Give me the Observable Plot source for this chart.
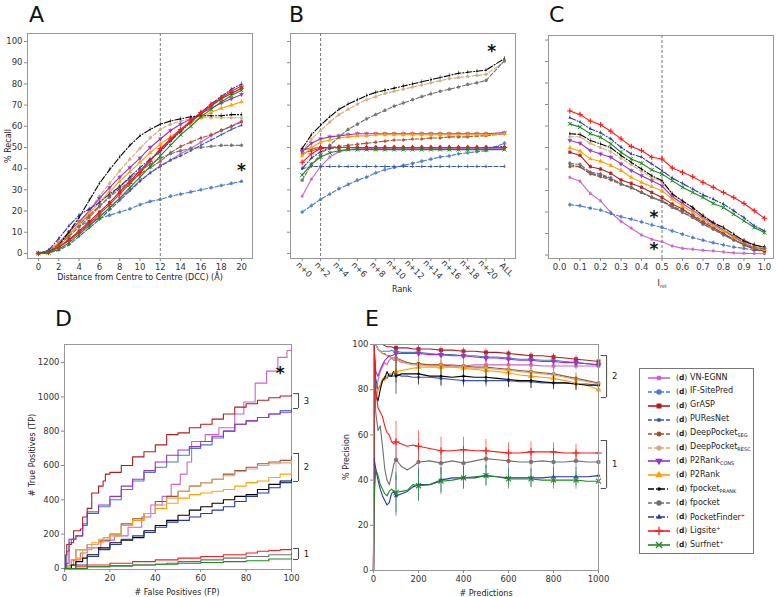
<!DOCTYPE html>
<html><head><meta charset="utf-8">
<script src="https://cdn.jsdelivr.net/npm/d3@7"></script>
<script src="https://cdn.jsdelivr.net/npm/@observablehq/plot@0.6"></script>
<style>
body{margin:0;background:#fff;font-family:"DejaVu Sans",sans-serif;}
#fig{position:relative;width:776px;height:597px;overflow:hidden;background:#fff}
.plab{position:absolute;font-size:22px;line-height:22px;color:#111}
.alab{position:absolute;font-size:8px;color:#222;white-space:nowrap;transform:translate(-50%,-50%)}
.vlab{transform:translate(-50%,-50%) rotate(-90deg)}
#legend{position:absolute;left:639px;top:368px;width:115px;height:186px;border:1px solid #777;box-sizing:border-box;background:#fff}
.lrow{position:absolute;left:0;height:12px;white-space:nowrap;font-size:8px;color:#222}
.lrow svg{position:absolute;left:7px;top:0}
.lrow .dd{position:absolute;left:36px;top:1px;font-size:7.5px}
.lrow .nm{position:absolute;left:50px;top:0.5px}
sub,sup{font-size:5px}
sub{vertical-align:-2px}
sup{vertical-align:3px}
</style></head><body><div id="fig"></div>
<script>
// ---------------- DATA ----------------
const methods = ["VN-EGNN","IF-SitePred","GrASP","PUResNet","DeepPocket_SEG","DeepPocket_RESC","P2Rank_CONS","P2Rank","fpocket_PRANK","fpocket","PocketFinder+","Ligsite+","Surfnet+"];
const legendBase = ["VN-EGNN","IF-SitePred","GrASP","PUResNet","DeepPocket","DeepPocket","P2Rank","P2Rank","fpocket","fpocket","PocketFinder","Ligsite","Surfnet"];
const legendSub = ["","","","","SEG","RESC","CONS","","PRANK","","","",""];
const legendSup = ["","","","","","","","","","","+","+","+"];

// Panel A: recall vs DCC threshold
const dccX = [0,1,2,3,4,5,6,7,8,9,10,11,12,13,14,15,16,17,18,19,20];
const dccTicks = [0,2,4,6,8,10,12,14,16,18,20];
const recallTicks = [0,10,20,30,40,50,60,70,80,90,100];
const dccRecall = [
 [0,0.5,3,6.5,10,13.5,17.5,21.5,26,30,34.5,38,41.5,44,47,49.5,52.5,55.5,58,60,62.5],
 [0,1,5,9.5,13,15,16.5,18,19.5,21,23,24.5,25.5,27,28,29,30,31,32,33,34],
 [0,0.5,3,6.5,10.5,15,19.5,24,29,34,39,44,49,53.5,58,62,66,69.5,73,75.5,78],
 [0,0.3,1.5,4,8,12,16,20.5,25,29.5,34,38,41,44,46,48.5,51,53.5,56,58.5,60.5],
 [0,1,4.5,9,13.5,18,22.5,26.5,30.5,34,37.5,40.5,43.5,47.5,50.5,52.5,54.5,56,58,60,62],
 [0,0.5,3.5,8,14,20.5,27,33,39,44.5,49.5,54.5,58.5,61,62.5,63.5,64,64,64,64,64],
 [0,1,5,10,15,20,26,31,36,40.5,45,50,54,58,61,63.5,66,68.5,71,73,75],
 [0,1,5,9,14,19,24,29,34,38.5,43,47.5,51.5,55,58.5,61.5,64,66.5,68.5,70,71.5],
 [0,0.5,4,10,17,25,33,39.5,45.5,51,55.5,58.5,61,62.5,63.5,64.5,65,65,65,65.5,65.5],
 [0,1,4,8,12.5,17,22,27,31.5,35.5,39,42,45,47,48.5,49.5,50,50.5,51,51,51],
 [0,1.5,7,13,18,21,24,28,31.5,36,40.5,44.5,48,53,57.5,62,66.5,70.5,74,77.5,80],
 [0,0.5,3,6,10,14,18.5,23,28,33,38,43.5,49.5,54,58.5,62.5,66.5,70,73.5,76.5,79],
 [0,0.3,2,5,9,13,17,21.5,26,31,36,41,46,51,56,60,64.5,68,71.5,74.5,77]
];

// Panel B: recall vs rank (ALL plotted at position 22)
const rankX = [0,1,2,3,4,5,6,7,8,9,10,11,12,13,14,15,16,17,18,19,20,22];
const rankTickPos = [0,2,4,6,8,10,12,14,16,18,20,22];
const rankTickLabels = ["n+0","n+2","n+4","n+6","n+8","n+10","n+12","n+14","n+16","n+18","n+20","ALL"];
const rankRecall = [
 [27,35,41,45.5,48,49,49.5,49.5,49.5,49.5,49.5,49.5,49.5,49.5,49.5,49.5,49.5,49.5,49.5,49.5,49.5,49.5],
 [19.5,22.5,25.5,28,30.5,32.5,34.5,36,38,39.5,40.5,41.5,42.5,43.5,44.5,45.5,46,47,47.5,48,48.5,52],
 [49,49.5,50,50,50,50,50,50,50,50,50,50,50,50,50,50,50,50,50,50,50,50],
 [40,41,41,41,41,41,41,41,41,41,41,41,41,41,41,41,41,41,41,41,41,41],
 [47,48.5,49.5,50,50.5,51,51.5,52,52.5,53,53.5,53.5,54,54,54.5,54.5,55,55,55,55.5,55.5,56.5],
 [48,54,58,62,65.5,68,70.5,72.5,74,75.5,76.5,77.5,78.5,79.5,80.5,81.5,82.5,83,83.5,84,84.5,90.5],
 [48,52,54,55,55.5,56,56.5,56.5,56.5,56.5,56.5,56.5,56.5,56.5,56.5,56.5,56.5,56.5,56.5,56.5,56.5,57],
 [46,50,52.5,53.5,54.5,55,55.5,55.5,56,56,56,56,56,56,56,56,56,56,56,56,56,56.5],
 [49.5,56,60.5,64.5,68,70.5,72.5,74.5,76,77,78,79,80,81,82,83,84,85,85.5,86,86.5,92],
 [34.5,42,46.5,51,55,58.5,61,63.5,65.5,67.5,69.5,71,72.5,74,75.3,76.5,77.5,78.5,79.7,80.5,81.6,91],
 [40,45,48,49.5,50,50,50,50,50,50,50,50,50,50,50,50,50,50,50,50,50,50.5],
 [43,47,49.5,50,50,50,50,50,50,50,50,50,50,50,50,50,50,50,50,50,50,50],
 [37,42,45.5,47.5,48.5,49,49,49,49,49,49,49,49,49,49,49,49,49,49,49,49,49]
];

// Panel C: recall vs relative ligandability threshold
const irelX = [0.05,0.1,0.15,0.2,0.25,0.3,0.35,0.4,0.45,0.5,0.55,0.6,0.65,0.7,0.75,0.8,0.85,0.9,0.95,1.0];
const irelTicks = [0,0.1,0.2,0.3,0.4,0.5,0.6,0.7,0.8,0.9,1.0];
const irelRecall = [
 [36.1,34.3,28.6,25.2,19.8,15.6,12.5,9.3,7.3,6.2,4.2,3.1,2.7,2.2,1.9,1.4,1,0.8,0.7,0.6],
 [23.4,22.9,21.8,20.9,19.3,17.8,16.7,15.4,14,12.8,11.2,9.7,8.1,6.9,5.7,4.7,3.7,3.1,2.2,1.9],
 [47.8,46.3,41.1,40,38,34.9,33.3,31.5,29.1,26.8,23.7,21.4,18.2,15.1,12.8,10,7.3,4.7,2.7,1.9],
 [42,41,38,37,35.5,33,31.5,29,27,25,22.5,20,17.5,14.5,12,9.5,7,5,3,2.5],
 [41.1,41.1,37.7,36.4,34.9,33,31.2,29.1,26.8,25.2,22.9,20.6,18.7,15.9,13.6,11.2,8.9,6.9,4.7,3.7],
 [55,55,52,50,48,45,42,39,36,34,28.5,25,22,18.5,15,12,9,6.5,4,3],
 [53.3,52,48.6,47,45.5,42.4,39.3,36.9,34.6,32.2,27.1,24,20.9,17.4,14.6,11.5,8.4,5.7,3.4,2.7],
 [49.9,48.3,44.7,43.6,41.6,39.3,36.1,33.8,31.8,29.9,26,22.9,19.8,16.7,13.6,11.2,8.1,5.3,3.4,2.5],
 [56.4,56.1,53.3,51.7,49.9,46.3,43.1,40,36.9,34.6,28.4,25.2,22.1,18.2,15.1,12.8,9.7,6.5,4.7,3.7],
 [42.7,42.1,38.5,37.7,35.8,33,31.5,29.1,26.8,24.9,22.1,19.8,17.4,14.3,12,9.3,6.9,5,3.4,3.1],
 [63.9,61.8,58.7,56.9,54,50.1,47,45.5,42.4,39.3,35.8,33.3,30.7,28,26,23.7,20.6,17.4,13.6,11.2],
 [67,65.4,62.3,60.6,57.6,54,50.5,48.6,45.5,44.7,40.5,38.5,36.4,33.8,31.5,29.1,26.8,24,20.6,17.1],
 [61,59.5,56.4,54.8,51.7,47.8,44.7,42.7,39.6,37.7,34.6,31.5,29.1,26.8,24,22.1,19,15.9,12.8,10.4]
];

// Panel D: TP vs FP (step curves), [FP, TP]
const fpTicks = [0,20,40,60,80,100];
const tpTicks = [0,200,400,600,800,1000,1200];
const rocCurves = [
 [[0,0],[2,20],[4,50],[7,90],[10,120],[16,165],[22,190],[28,240],[34,300],[38,370],[43,420],[47,490],[51,550],[54,620],[56,740],[62,780],[68,820],[75,900],[79,970],[84,1080],[89,1150],[94,1230],[98,1270],[100,1290]],
 [[0,0],[1,100],[2,150],[3,170],[5,190],[8,260],[10,330],[15,360],[20,400],[25,460],[30,510],[35,560],[40,590],[45,620],[50,660],[55,700],[60,720],[65,760],[70,800],[75,840],[80,860],[85,880],[90,900],[95,920],[100,935]],
 [[0,0],[0.5,80],[1,140],[3,150],[4,220],[7,230],[8,300],[10,350],[12,440],[15,480],[17,510],[18,550],[20,560],[25,600],[30,650],[35,680],[40,720],[45,780],[50,790],[55,820],[60,840],[65,870],[70,900],[75,940],[80,960],[85,980],[90,995],[95,1005],[100,1010]],
 [],
 [[0,0],[3,50],[5,110],[10,140],[15,160],[20,200],[25,260],[30,290],[35,320],[40,390],[45,420],[50,450],[55,480],[60,500],[65,520],[70,550],[75,570],[80,590],[85,610],[90,620],[95,630],[100,650]],
 [[0,0],[3,50],[5,110],[10,140],[15,170],[20,200],[25,250],[30,280],[35,320],[40,370],[45,410],[50,450],[55,480],[60,500],[65,520],[70,540],[75,565],[80,580],[85,600],[90,610],[95,615],[100,630]],
 [[0,0],[1,30],[2,170],[5,190],[8,250],[10,320],[15,370],[20,420],[25,480],[30,520],[35,570],[40,620],[45,660],[50,690],[55,710],[60,740],[65,770],[70,800],[75,840],[80,860],[85,880],[90,900],[95,910],[100,920]],
 [[0,0],[2,20],[5,60],[8,110],[12,150],[17,180],[20,190],[25,250],[30,280],[35,320],[40,350],[45,380],[50,410],[55,430],[60,440],[65,450],[70,460],[75,480],[80,500],[85,510],[90,530],[95,550],[100,580]],
 [[0,0],[3,20],[5,40],[8,60],[10,80],[15,120],[20,150],[25,165],[30,180],[35,220],[40,250],[45,280],[50,310],[55,340],[60,360],[65,380],[70,400],[75,420],[80,430],[85,460],[90,490],[95,510],[100,520]],
 [[0,0],[10,10],[20,15],[30,20],[40,25],[45,30],[50,40],[60,50],[70,60],[80,70],[90,80],[100,90]],
 [[0,0],[5,20],[10,70],[15,110],[20,140],[25,170],[30,190],[35,210],[40,240],[45,270],[50,280],[55,300],[60,320],[65,340],[70,360],[75,390],[80,420],[85,440],[90,470],[95,500],[100,510]],
 [[0,0],[5,10],[10,20],[20,30],[30,40],[40,50],[50,60],[60,70],[70,80],[80,90],[85,100],[90,105],[95,110],[100,115]],
 [[0,0],[10,10],[20,15],[30,20],[40,25],[50,30],[60,35],[70,40],[80,45],[90,55],[100,65]]
];
const rocBrackets = [{label:"3", y1:1019, y2:932},{label:"2", y1:670, y2:507},{label:"1", y1:116, y2:52}];

// Panel E: precision vs number of predictions
const predX = [0,2,10,20,30,40,50,60,70,80,90,100,125,150,175,200,250,300,350,400,450,500,550,600,650,700,750,800,850,900,950,1000];
const predTicks = [0,200,400,600,800,1000];
const precTicks = [0,20,40,60,80,100];
const precision = [
 [0,100,80,84,88,90,92,91,93,94,93,93.5,92,92,91.5,91.5,91,91,91,90.5,91,91,91,91,91,91,90.5,90.5,90.5,90.5,90.5,90.5],
 [0,100,100,98,97,97,97,97,97,97.5,97,97,96.5,96.5,96.5,96.5,96,95.5,95.5,95,95,94.5,94.5,94,93.5,93.5,93,93,92.5,92,91.5,91],
 [0,100,100,100,100,100,99.5,99,99,99,98.5,98.5,98.5,98.5,98,98,98,97.5,97.5,97,97,96.5,96.5,96,95.5,95,95,94.5,94,93.5,93,92.5],
 [0,100,85,80,82,84,86,85,87,86,86,87,86,86,85.5,85.5,85.5,85,84.5,84,84,84,84,84,83.5,83.5,83,83,83,82.5,82.5,82],
 [0,100,100,98,97,96,96,95,95,94,94,94,93,92,91.5,91.5,91,91,90.5,90.5,90,90,89.5,89,88.5,88,87.5,87,86,85,84,83],
 [0,100,100,98,97,96,95.5,95,94.5,94,94,93.5,92.5,91.5,91,91,90.5,90.5,90,90,89.5,89.5,89,88.5,88,87.5,87,86.5,85.5,84.5,83.5,82.5],
 [0,100,88,86,89,91,93,94,95,95,95.5,96,96,96,96,96,95.5,95.5,95,95,94.5,94,94,93.5,93,93,92.5,92.5,92,92,91.5,91],
 [0,100,75,80,82,85,84,86,87,87,88,88,88.5,89,89.5,90,90,90,90,89.5,89,88.5,88,87.5,86.5,86,85.5,85,84,83,82,80],
 [0,100,78,75,80,84,85,88,86,86,88,86,87,87,87,87,86,86,85.5,86,85.5,85.5,85,84.5,84,84,83.5,83,83,82.5,82,82],
 [0,100,70,62,64,55,45,40,38,42,47,49,46,44.5,46,48,48.5,47.5,48.5,47.5,48.5,49.5,49,48.5,48,48,48.5,48,48,48.5,48,48],
 [0,50,45,40,36,33,31,29,30,34,35,33,34,35,37,38,38,40,41,41,41,42,41.5,41,41,41,41,41.5,41.5,41.5,41.5,42],
 [0,100,80,72,70,68,64,61,60,57,56,57,56,55,55.5,55,54,53,53,53.5,53,53,52.5,52,52,52.5,52.5,52.5,52,52,52,52],
 [0,30,45,42,38,36,34,33,35,36,35,34.5,35,35.5,38,37.5,38,39.5,40,41,41.5,42,41.5,40.5,40.5,40.5,40,40,40,40,39.5,39.5]
];
const errX = [100,200,300,400,500,600,700,800,900,1000];
const precErr = [
 [2,2,2,2,2,2,2,2,2,2],
 [1.5,1.5,1.5,1.5,1.5,1.5,1.5,1.5,1.5,1.5],
 [1.5,1.5,1.5,1.5,1.5,1.5,1.5,1.5,1.5,1.5],
 [4,3,3,3,3,3,3,2.5,2.5,2.5],
 [3,2.5,2.5,2.5,2.5,2.5,2.5,2.5,2.5,2.5],
 [3,2.5,2.5,2.5,2.5,2.5,2.5,2.5,2.5,2.5],
 [2,2,2,2,2,2,2,2,2,2],
 [3,3,3,3,3,3,3,3,3,3],
 [8,5,4.5,4,3.5,3.5,3.5,3,3,3],
 [9,6,5,4.5,4.5,4,4,4,4,4],
 [9,7,5.5,5,4.5,4,4,4,4,4],
 [9,7,6,5.5,5,4.5,4.5,4,4,4],
 [9,7,6,5,4.5,4.5,4,4,4,4]
];
const precBrackets = [{label:"2", y1:95.1, y2:76.5},{label:"1", y1:57.5, y2:36.3}];

const aStars = [{x:20, y:39}];
const bStars = [{x:20.6, y:95.5}];
const cStars = [{x:0.46, y:17.5},{x:0.46, y:2.5}];
const dStars = [{x:95, y:1135}];

// ---------------- STYLES ----------------
const styles = [
 {color:"#c964c8", dash:null, symbol:"square", r:1.5},
 {color:"#4a7bc8", dash:"4,2", symbol:"circle", r:1.7},
 {color:"#b01c20", dash:null, symbol:"square", r:1.8},
 {color:"#3b55b5", dash:"4,2", symbol:"circle", r:1.1},
 {color:"#a0522d", dash:"4,2", symbol:"circle", r:1.5},
 {color:"#d2aa7a", dash:"4,2", symbol:"circle", r:1.6},
 {color:"#9a32c8", dash:null, symbol:"triangle", rotate:180, r:1.8},
 {color:"#ffa000", dash:null, symbol:"triangle", r:1.8},
 {color:"#000000", dash:"6,2,1,2", symbol:"circle", r:0.8},
 {color:"#707070", dash:"4,2", symbol:"circle", r:1.7},
 {color:"#2436a8", dash:"6,2,1,2", symbol:"triangle", r:1.1},
 {color:"#ff1a1a", dash:null, symbol:"plus", r:1.9},
 {color:"#1f8a1f", dash:null, symbol:"times", r:1.9}
];
const FONT = "DejaVu Sans";
const fig = document.getElementById("fig");
function place(el, left, top){ el.style.position="absolute"; el.style.left=left+"px"; el.style.top=top+"px"; fig.appendChild(el); }
function addText(cls, html, x, y){ const d=document.createElement("div"); d.className=cls; d.innerHTML=html; d.style.left=x+"px"; d.style.top=y+"px"; fig.appendChild(d); return d; }

function seriesMarks(xs, table, opts={}){
  const marks=[];
  table.forEach((vals,i)=>{
    const st=styles[i];
    const rows = xs.map((x,k)=>({x, y: vals[k]}));
    marks.push(Plot.line(rows,{x:"x",y:"y",stroke:st.color,strokeWidth:1.1,strokeDasharray:st.dash||undefined,curve:"linear"}));
    const stroked = st.symbol==="plus"||st.symbol==="times";
    marks.push(Plot.ruleX(rows,{x:"x",y1:d=>d.y-0.9,y2:d=>d.y+0.9,stroke:st.color,strokeOpacity:0.5,strokeWidth:1}));
    marks.push(Plot.dot(rows,{x:"x",y:"y",symbol:st.symbol,r:st.r,rotate:st.rotate||0,
      fill: stroked?"none":st.color, stroke: stroked?st.color:"none", strokeWidth:1, fillOpacity:0.85}));
  });
  return marks;
}
const baseStyle = {fontFamily:FONT, fontSize:"8.5px", color:"#333", background:"transparent", overflow:"visible"};
const axOpts = {tickSize:3, tickPadding:2, label:null, stroke:"#888"};
const plainFmt = d3.format("d");

// ---------------- PANEL A ----------------
const pA = Plot.plot({
  width:258, height:290, marginLeft:27, marginRight:6, marginTop:33, marginBottom:32,
  x:{domain:[-1.08,21.08]}, y:{domain:[-2.4,103.8]}, style:baseStyle,
  marks:[
    Plot.frame({stroke:"#999"}),
    Plot.axisX({...axOpts, ticks:dccTicks, tickFormat:plainFmt}),
    Plot.axisY({...axOpts, ticks:recallTicks, tickFormat:plainFmt}),
    Plot.ruleX([12],{stroke:"#777",strokeDasharray:"3,2"}),
    ...seriesMarks(dccX, dccRecall),
    Plot.text(aStars,{x:"x",y:"y",text:()=>"*",fontSize:17,fontWeight:"bold",fill:"#111"})
  ]
});
place(pA,0,0);

// ---------------- PANEL B ----------------
const pB = Plot.plot({
  width:262, height:300, marginLeft:32, marginRight:5, marginTop:33, marginBottom:42,
  x:{domain:[-1.27,23.2]}, y:{domain:[-2.4,103.8]}, style:baseStyle,
  marks:[
    Plot.frame({stroke:"#999"}),
    Plot.axisX({...axOpts, ticks:rankTickPos, tickFormat:()=>""}),
    Plot.text(rankTickPos.map((p,i)=>({p,l:rankTickLabels[i]})),{x:"p",text:"l",frameAnchor:"bottom",dy:13,rotate:45,textAnchor:"middle",fill:"#333",fontSize:8.5}),
    Plot.axisY({...axOpts, ticks:recallTicks, tickFormat:()=>""}),
    Plot.ruleX([2],{stroke:"#777",strokeDasharray:"3,2"}),
    ...seriesMarks(rankX, rankRecall),
    Plot.text(bStars,{x:"x",y:"y",text:()=>"*",fontSize:17,fontWeight:"bold",fill:"#111"})
  ]
});
place(pB,258,0);

// ---------------- PANEL C ----------------
const pC = Plot.plot({
  width:256, height:290, marginLeft:28, marginRight:3, marginTop:35, marginBottom:32,
  x:{domain:[-0.054,1.044]}, y:{domain:[-1.6,102.1]}, style:baseStyle,
  marks:[
    Plot.frame({stroke:"#999"}),
    Plot.axisX({...axOpts, ticks:irelTicks, tickFormat:d3.format(".1f")}),
    Plot.axisY({...axOpts, ticks:recallTicks, tickFormat:()=>""}),
    Plot.ruleX([0.5],{stroke:"#777",strokeDasharray:"3,2"}),
    ...seriesMarks(irelX, irelRecall),
    Plot.text(cStars,{x:"x",y:"y",text:()=>"*",fontSize:17,fontWeight:"bold",fill:"#111"})
  ]
});
place(pC,520,0);

// ---------------- PANEL D ----------------
const dMarks=[];
rocCurves.forEach((pts,i)=>{
  if(!pts.length) return;
  const st=styles[i];
  dMarks.push(Plot.line(pts,{x:d=>d[0],y:d=>d[1],stroke:st.color,strokeWidth:1.1,curve:"step-after"}));
});
const fpMax = d3.max(fpTicks);
const pD = Plot.plot({
  width:300, height:297, marginLeft:64, marginRight:9, marginTop:44, marginBottom:28,
  x:{domain:[0,fpMax]}, y:{domain:[-6,1305]}, style:baseStyle,
  marks:[
    Plot.frame({stroke:"#999"}),
    Plot.axisX({...axOpts, ticks:fpTicks, tickFormat:plainFmt}),
    Plot.axisY({...axOpts, ticks:tpTicks, tickFormat:plainFmt}),
    ...dMarks,
    Plot.text(dStars,{x:"x",y:"y",text:()=>"*",fontSize:17,fontWeight:"bold",fill:"#111"}),
    Plot.ruleX(rocBrackets,{x:fpMax*1.031,y1:"y1",y2:"y2",stroke:"#333",strokeWidth:0.9}),
    Plot.ruleY(rocBrackets,{y:"y1",x1:fpMax*1.009,x2:fpMax*1.031,stroke:"#333",strokeWidth:0.9}),
    Plot.ruleY(rocBrackets,{y:"y2",x1:fpMax*1.009,x2:fpMax*1.031,stroke:"#333",strokeWidth:0.9}),
    Plot.text(rocBrackets,{x:fpMax*1.031,y:d=>(d.y1+d.y2)/2,text:"label",dx:8,fill:"#222",fontSize:8.5})
  ]
});
place(pD,0,300);

// ---------------- PANEL E ----------------
const eMarks=[];
precision.forEach((vals,i)=>{
  const st=styles[i];
  const rows=predX.map((x,k)=>({x,y:vals[k]}));
  eMarks.push(Plot.line(rows,{x:"x",y:"y",stroke:st.color,strokeWidth:1.1,curve:"linear"}));
});
precision.forEach((vals,i)=>{
  const st=styles[i];
  const rows=errX.map((x,k)=>({x,y:vals[predX.indexOf(x)],e:precErr[i][k]}));
  const stroked = st.symbol==="plus"||st.symbol==="times";
  eMarks.push(Plot.ruleX(rows,{x:"x",y1:d=>d.y-d.e,y2:d=>d.y+d.e,stroke:st.color,strokeOpacity:0.6,strokeWidth:1}));
  eMarks.push(Plot.dot(rows,{x:"x",y:"y",symbol:st.symbol,r:st.r+0.5,rotate:st.rotate||0,fill:stroked?"none":st.color,stroke:stroked?st.color:"none",strokeWidth:1.1,fillOpacity:0.85}));
});
const predMax = d3.max(predTicks);
const pE = Plot.plot({
  width:330, height:297, marginLeft:73, marginRight:32, marginTop:44, marginBottom:27,
  x:{domain:[0,predMax]}, y:{domain:[0,100]}, style:baseStyle,
  marks:[
    ...eMarks,
    Plot.frame({stroke:"#999"}),
    Plot.axisX({...axOpts, ticks:predTicks, tickFormat:plainFmt}),
    Plot.axisY({...axOpts, ticks:precTicks, tickFormat:plainFmt}),
    Plot.ruleX(precBrackets,{x:predMax*1.036,y1:"y1",y2:"y2",stroke:"#333",strokeWidth:0.9}),
    Plot.ruleY(precBrackets,{y:"y1",x1:predMax*1.012,x2:predMax*1.036,stroke:"#333",strokeWidth:0.9}),
    Plot.ruleY(precBrackets,{y:"y2",x1:predMax*1.012,x2:predMax*1.036,stroke:"#333",strokeWidth:0.9}),
    Plot.text(precBrackets,{x:predMax*1.036,y:d=>(d.y1+d.y2)/2,text:"label",dx:8,fill:"#222",fontSize:8.5})
  ]
});
place(pE,300,300);

// ---------------- LABELS ----------------
addText("plab","A",29,4);
addText("plab","B",289,4);
addText("plab","C",549,4);
addText("plab","D",55,308);
addText("plab","E",365,308);
addText("alab vlab","% Recall",8,146);
addText("alab","Distance from Centre to Centre (DCC) (Å)",140,277);
addText("alab","Rank",402,289);
addText("alab","I<sub>rel</sub>",662,284);
addText("alab vlab","# True Positives (TP)",32,455);
addText("alab","# False Positives (FP)",177,592);
addText("alab vlab","% Precision",346,457);
addText("alab","# Predictions",486,593);

// ---------------- LEGEND ----------------
const leg=document.createElement("div"); leg.id="legend"; fig.appendChild(leg);
const symMap={square:d3.symbolSquare,circle:d3.symbolCircle,triangle:d3.symbolTriangle,plus:d3.symbolPlus||d3.symbolCross,times:d3.symbolTimes||d3.symbolX};
methods.forEach((m,i)=>{
  const st=styles[i];
  const row=document.createElement("div"); row.className="lrow"; row.style.top=(3+i*13.9)+"px";
  const svg=d3.create("svg").attr("width",26).attr("height",12);
  svg.append("line").attr("x1",1).attr("x2",23).attr("y1",6).attr("y2",6).attr("stroke",st.color).attr("stroke-width",1.6).attr("stroke-dasharray",st.dash||null);
  const stroked = st.symbol==="plus"||st.symbol==="times";
  const rr = st.r+1.0;
  svg.append("path").attr("d",d3.symbol(symMap[st.symbol], Math.PI*rr*rr)())
    .attr("transform",`translate(12,6) rotate(${st.rotate||0})`)
    .attr("fill",stroked?"none":st.color).attr("stroke",stroked?st.color:"none").attr("stroke-width",1.3);
  row.appendChild(svg.node());
  const dd=document.createElement("span"); dd.className="dd"; dd.innerHTML="(<b>d</b>)"; row.appendChild(dd);
  const nm=document.createElement("span"); nm.className="nm";
  nm.innerHTML=legendBase[i]+(legendSub[i]?`<sub>${legendSub[i]}</sub>`:"")+(legendSup[i]?`<sup>${legendSup[i]}</sup>`:"");
  row.appendChild(nm);
  leg.appendChild(row);
});
</script></body></html>
